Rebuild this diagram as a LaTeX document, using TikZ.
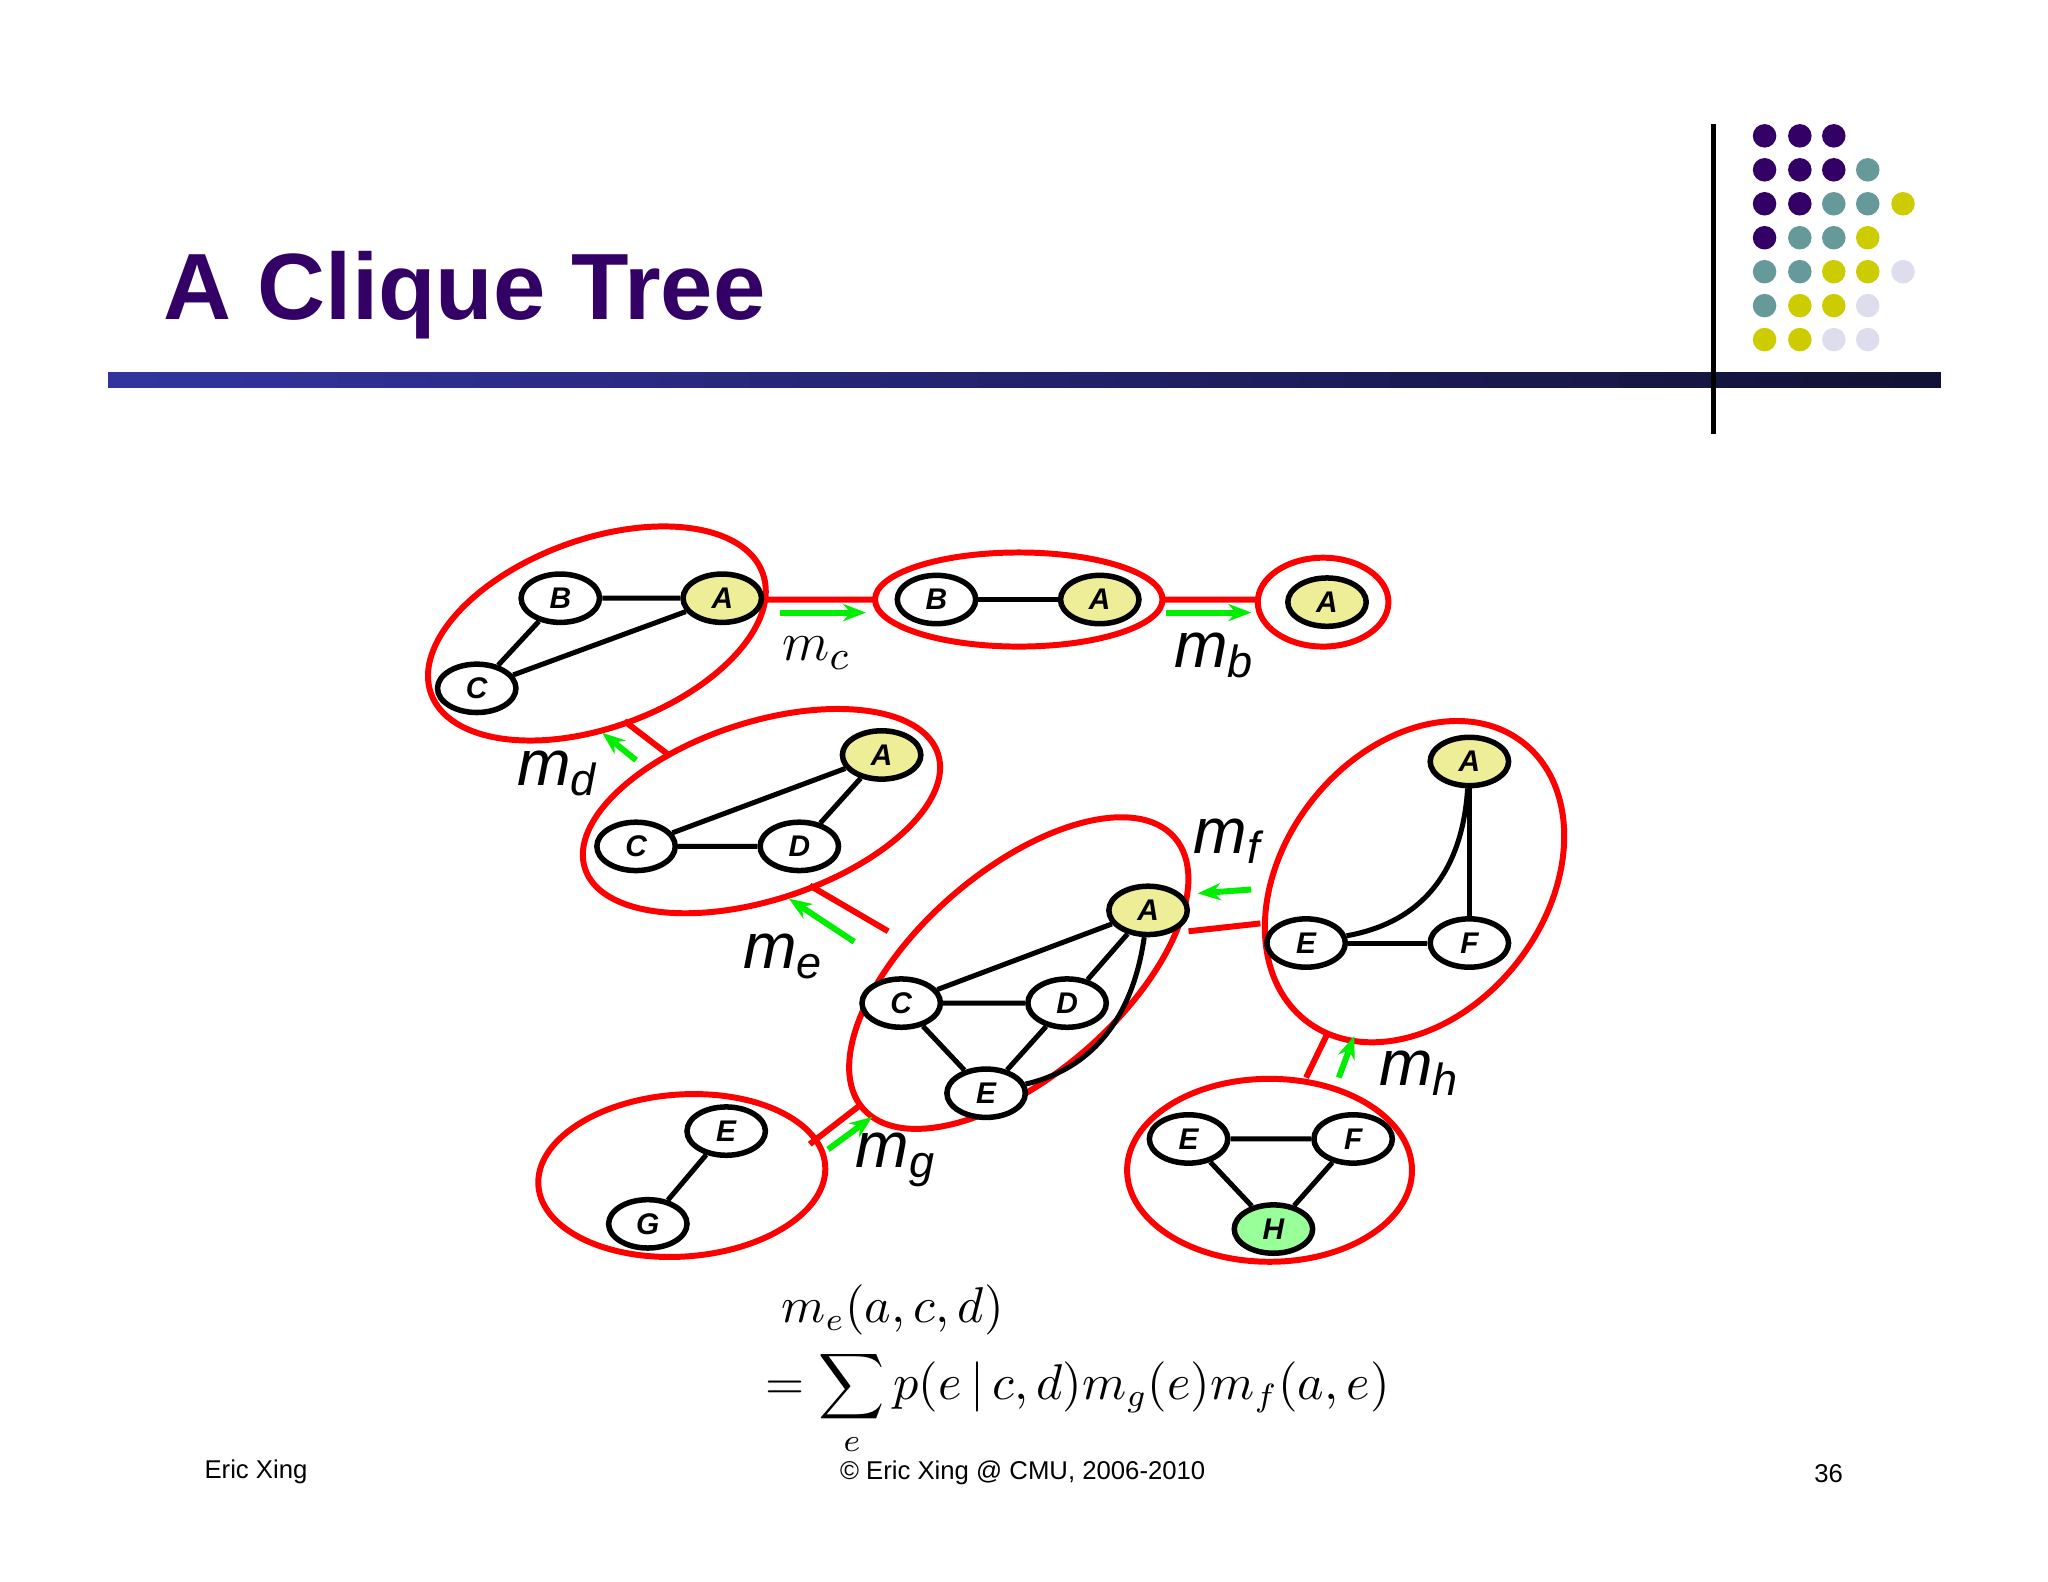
\documentclass[tikz,border=0pt]{standalone}
\usepackage{fontspec}
\setsansfont{Liberation Sans}
\usetikzlibrary{shapes.geometric,arrows.meta}
\definecolor{ttl}{HTML}{330066}
\definecolor{dp}{HTML}{330066}
\definecolor{dt}{HTML}{669999}
\definecolor{dy}{HTML}{CCCC00}
\definecolor{dl}{HTML}{DDDDEE}
\definecolor{ylw}{HTML}{EEEE99}
\definecolor{grn}{HTML}{99FF99}
\definecolor{arr}{HTML}{00EE00}
\definecolor{barl}{HTML}{3333A0}
\definecolor{barr}{HTML}{111133}
\tikzset{
 vx/.style={ellipse,draw,line width=1.2pt,minimum width=0.6cm,minimum height=0.37cm,inner sep=0pt,font=\sffamily\bfseries\itshape\fontsize{6.5}{7}\selectfont,fill=white},
 vy/.style={vx,fill=ylw},
 cl/.style={draw=red,line width=1.3pt},
 sep/.style={draw=red,line width=1.3pt},
 msg/.style={draw=arr,line width=1.3pt,-{Stealth[length=5pt]}},
 ed/.style={line width=1.1pt},
 ml/.style={font=\sffamily\itshape\fontsize{14}{15}\selectfont},
}
\newcommand{\dotc}[3]{\fill[#3] (#1,#2) circle[radius=0.09cm];}
\newcommand{\cliq}[5]{\draw[cl] (#1,#2) ellipse[x radius=#3cm,y radius=#4cm,rotate=#5];}
\begin{document}
\begin{tikzpicture}[x=0.01cm,y=-0.01cm]
\useasboundingbox (0,0) rectangle (1568,1211);
% header
\node[anchor=west,font=\sffamily\bfseries\fontsize{20.5}{24}\selectfont,text=ttl] (title) at (113,226) {A Clique Tree};
\foreach \ii in {0,...,39} {
  \pgfmathsetmacro{\pp}{100-\ii*2.5}
  \fill[barl!\pp!barr] ({83+\ii*35.05},285) rectangle ({83+(\ii+1)*35.05+1},297);
}
\draw[line width=1pt] (1312,95) -- (1312,332);
\foreach \xx/\cc in {1351/dp,1378/dp,1404/dp} {\dotc{\xx}{104}{\cc}}
\foreach \xx/\cc in {1351/dp,1378/dp,1404/dp,1430/dt} {\dotc{\xx}{130}{\cc}}
\foreach \xx/\cc in {1351/dp,1378/dp,1404/dt,1430/dt,1457/dy} {\dotc{\xx}{156}{\cc}}
\foreach \xx/\cc in {1351/dp,1378/dt,1404/dt,1430/dy} {\dotc{\xx}{182}{\cc}}
\foreach \xx/\cc in {1351/dt,1378/dt,1404/dy,1430/dy,1457/dl} {\dotc{\xx}{208}{\cc}}
\foreach \xx/\cc in {1351/dt,1378/dy,1404/dy,1430/dl} {\dotc{\xx}{234}{\cc}}
\foreach \xx/\cc in {1351/dy,1378/dy,1404/dl,1430/dl} {\dotc{\xx}{260}{\cc}}
% cliques
\cliq{457}{485}{1.35}{0.72}{20}
\cliq{780}{459}{1.10}{0.36}{0}
\cliq{1013}{461}{0.50}{0.34}{0}
\cliq{583}{621}{1.42}{0.68}{18}
\cliq{780}{745}{1.58}{0.78}{41}
\cliq{1083}{675}{1.35}{1.00}{52}
\cliq{522}{900}{1.10}{0.62}{4}
\cliq{972}{896}{1.09}{0.70}{0}
% clique 1
\node[vx] (b1) at (429,458) {B};
\node[vy] (a1) at (553,458) {A};
\node[vx] (c1) at (365,527) {C};
\draw[ed] (b1)--(a1) (b1)--(c1) (c1)--(a1);
% clique 2
\node[vx] (b2) at (717,459) {B};
\node[vy] (a2) at (842,459) {A};
\draw[ed] (b2)--(a2);
% clique 3
\node[vy] (a3) at (1016,461) {A};
% clique 4
\node[vy] (a4) at (675,578) {A};
\node[vx] (c4) at (487,648) {C};
\node[vx] (d4) at (612,648) {D};
\draw[ed] (c4)--(d4) (c4)--(a4) (d4)--(a4);
% clique 5
\node[vy] (a5) at (879,697) {A};
\node[vx] (c5) at (690,768) {C};
\node[vx] (d5) at (817,768) {D};
\node[vx] (e5) at (755,837) {E};
\draw[ed] (c5)--(d5) (c5)--(a5) (d5)--(a5) (c5)--(e5) (d5)--(e5);
\draw[ed] (e5) .. controls (850,815) and (870,760) .. (a5);
% clique 6
\node[vy] (a6) at (1125,583) {A};
\node[vx] (e6) at (1000,722) {E};
\node[vx] (f6) at (1125,722) {F};
\draw[ed] (e6)--(f6) (a6)--(f6);
\draw[ed] (e6) .. controls (1095,705) and (1120,660) .. (a6);
% clique 7
\node[vx] (e7) at (556,866) {E};
\node[vx] (g7) at (496,937) {G};
\draw[ed] (e7)--(g7);
% clique 8
\node[vx] (e8) at (910,872) {E};
\node[vx] (f8) at (1036,872) {F};
\node[vx,fill=grn] (h8) at (975,941) {H};
\draw[ed] (e8)--(f8) (e8)--(h8) (f8)--(h8);
% separators
\coordinate (s1a) at (588,459); \coordinate (s1b) at (670,459);
\coordinate (s2a) at (890,459); \coordinate (s2b) at (963,459);
\coordinate (s3a) at (478,552); \coordinate (s3b) at (512,578);
\coordinate (s4a) at (620,678); \coordinate (s4b) at (680,713);
\coordinate (s5a) at (910,713); \coordinate (s5b) at (965,707);
\coordinate (s6a) at (620,876); \coordinate (s6b) at (660,845);
\coordinate (s7a) at (1000,825); \coordinate (s7b) at (1017,790);
\draw[sep] (s1a)--(s1b) (s2a)--(s2b) (s3a)--(s3b) (s4a)--(s4b) (s5a)--(s5b) (s6a)--(s6b) (s7a)--(s7b);
% messages
\coordinate (g1a) at (597,469); \coordinate (g1b) at (663,469);
\coordinate (g2a) at (893,469); \coordinate (g2b) at (958,469);
\coordinate (g3a) at (487,582); \coordinate (g3b) at (461,561);
\coordinate (g4a) at (654,721); \coordinate (g4b) at (604,688);
\coordinate (g5a) at (958,681); \coordinate (g5b) at (917,684);
\coordinate (g6a) at (634,880); \coordinate (g6b) at (668,855);
\coordinate (g7a) at (1025,825); \coordinate (g7b) at (1037,793);
\draw[msg] (g1a)--(g1b); \draw[msg] (g2a)--(g2b); \draw[msg] (g3a)--(g3b);
\draw[msg] (g4a)--(g4b); \draw[msg] (g5a)--(g5b); \draw[msg] (g6a)--(g6b);
\draw[msg] (g7a)--(g7b);
% labels
\node[font=\fontsize{13}{14}\selectfont] (lc) at (625,500) {$m_c$};
\node[ml] (lb) at (930,502) {m\textsubscript{b}};
\node[ml] (ld) at (427,592) {m\textsubscript{d}};
\node[ml] (le) at (600,732) {m\textsubscript{e}};
\node[ml] (lf) at (940,644) {m\textsubscript{f}};
\node[ml] (lg) at (686,888) {m\textsubscript{g}};
\node[ml] (lh) at (1087,822) {m\textsubscript{h}};
% formula
\node[anchor=west,font=\fontsize{10.5}{12}\selectfont,inner sep=1pt] (f1) at (594,1003) {$m_e(a,c,d)$};
\node[anchor=west,font=\fontsize{10.5}{12}\selectfont,inner sep=1pt] (f2) at (582,1074) {$\displaystyle =\sum_e p(e\,|\,c,d)m_g(e)m_f(a,e)$};
% footer
\node[font=\sffamily\fontsize{5.6}{7}\selectfont] (ft1) at (196,1127) {Eric Xing};
\node[font=\sffamily\fontsize{5.6}{7}\selectfont] (ft2) at (783,1128) {© Eric Xing @ CMU, 2006-2010};
\node[font=\sffamily\fontsize{5.6}{7}\selectfont] (ft3) at (1400,1128) {36};
\end{tikzpicture}
\end{document}
